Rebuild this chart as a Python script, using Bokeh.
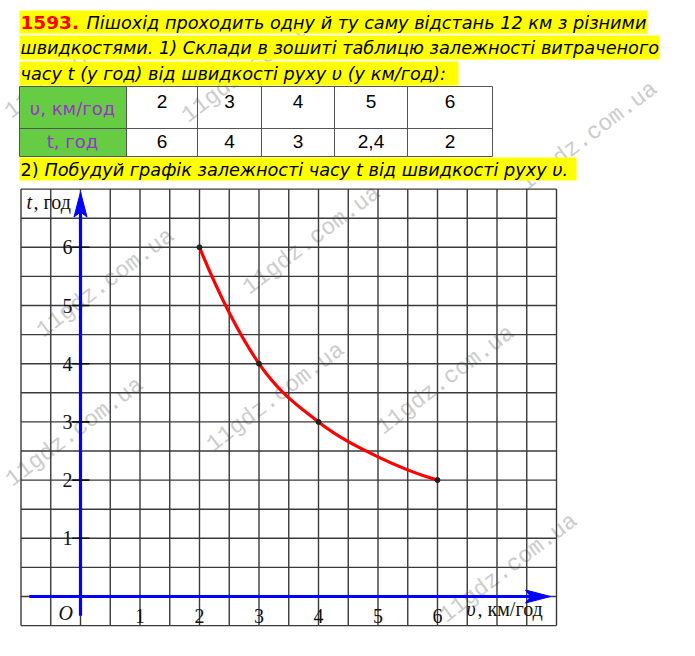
from bokeh.plotting import figure
from bokeh.models import Range1d, Label, ColumnDataSource
from bokeh.core.properties import value
from bokeh.embed import file_html
from bokeh.resources import INLINE
import math

# ---------------- data ----------------
speeds = [2, 3, 4, 5, 6]                 # v, km/h
times = [6, 4, 3, 2.4, 2]                # t, h
time_labels = ["6", "4", "3", "2,4", "2"]
marked = [True, True, True, False, True]
x_ticks = [1, 2, 3, 4, 5, 6]
y_ticks = [1, 2, 3, 4, 5, 6]

title_num = "1593."
line1 = "Пішохід проходить одну й ту саму відстань 12 км з різними"
line2 = "швидкостями. 1) Склади в зошиті таблицю залежності витраченого"
line3 = "часу t (у год) від швидкості руху υ (у км/год):"
line4a = "2)"
line4b = "Побудуй графік залежності часу t від швидкості руху υ."
row_head_v = "υ, км/год"
row_head_t = "t, год"
watermark = "11gdz.com.ua"

# ------------- page pixel -> chart units -------------
OX, OY, UX, UY = 80.0, 596.0, 59.5, 58.2
def X(px):
    return (px - OX) / UX
def Y(py):
    return (OY - py) / UY

W, H = 679, 640
p = figure(width=W, height=H, output_backend="svg", toolbar_location=None,
           x_range=Range1d(X(0), X(W)), y_range=Range1d(Y(H), Y(0)),
           min_border=0, outline_line_color=None)
p.axis.visible = False
p.grid.visible = False
p.background_fill_color = "white"

SERIF = value("Liberation Serif")

# ---------------- watermarks ----------------
wm = [(15, 124), (192, 128), (47, 343), (253, 300), (16, 492), (217, 457),
      (387, 440), (450, 628), (530, 196)]
ang = math.radians(37)
p.text(x=[X(a) for a, b in wm], y=[Y(b) for a, b in wm], text=[watermark] * len(wm),
       angle=ang, text_font=value("Liberation Mono"), text_font_size="23px",
       text_color="#cccccc", text_align="left", text_baseline="bottom")

# ---------------- header highlights ----------------
hl = [(19, 647, 10, 33), (19, 659, 35, 59), (19, 458, 61, 85), (19, 576, 157, 180)]
p.quad(left=[X(a) for a, b, c, d in hl], right=[X(b) for a, b, c, d in hl],
       top=[Y(c) for a, b, c, d in hl], bottom=[Y(d) for a, b, c, d in hl],
       fill_color="#ffff00", line_color=None)

def lab(px, py, txt, size="17.7px", color="black", style="italic", font="DejaVu Sans", align="left"):
    p.add_layout(Label(x=X(px), y=Y(py), text=txt, text_font=font, text_font_size=size,
                       text_color=color, text_font_style=style, text_align=align,
                       text_baseline="middle"))

lab(20, 22, title_num, size="18.5px", color="#ff0000", style="bold")
lab(86, 22, line1)
lab(20, 47, line2)
lab(20, 73, line3)
lab(20, 169, line4a, style="normal")
lab(44, 169, line4b)

# ---------------- table ----------------
col_edges = [19, 126, 197, 261, 334, 407, 492]
row_edges = [86, 128, 156]
p.quad(left=X(col_edges[0]), right=X(col_edges[1]), top=Y(row_edges[0]), bottom=Y(row_edges[2]),
       fill_color="#66cc44", line_color=None)
p.segment(x0=[X(c) for c in col_edges], x1=[X(c) for c in col_edges],
          y0=Y(row_edges[0]), y1=Y(row_edges[2]), line_color="#555555", line_width=1)
p.segment(x0=X(col_edges[0]), x1=X(col_edges[-1]), y0=[Y(r) for r in row_edges],
          y1=[Y(r) for r in row_edges], line_color="#555555", line_width=1)
lab(72, 108, row_head_v, size="18px", color="#9933cc", style="normal", align="center")
lab(72, 141, row_head_t, size="18px", color="#9933cc", style="normal", align="center")
centers = [(col_edges[i] + col_edges[i + 1]) / 2 for i in range(1, 6)]
p.text(x=[X(c) for c in centers], y=Y(101), text=[str(v) for v in speeds],
       text_font=value("Liberation Sans"), text_font_size="19px", text_align="center",
       text_baseline="middle", text_color="black")
p.text(x=[X(c) for c in centers], y=Y(141), text=time_labels,
       text_font=value("Liberation Sans"), text_font_size="19px", text_align="center",
       text_baseline="middle", text_color="black")

# ---------------- chart grid ----------------
gx0, gx1, gy0, gy1 = -1.0, 8.0, -0.5, 7.0
xs_grid = [gx0 + 0.5 * i for i in range(int((gx1 - gx0) / 0.5) + 1)]
ys_grid = [gy0 + 0.5 * i for i in range(int((gy1 - gy0) / 0.5) + 1)]
p.segment(x0=xs_grid, x1=xs_grid, y0=gy0, y1=gy1, line_color="#3a3a3a", line_width=1.4)
p.segment(x0=gx0, x1=gx1, y0=ys_grid, y1=ys_grid, line_color="#3a3a3a", line_width=1.4)

# ---------------- blue axes with arrow heads ----------------
BLUE = "#0000ff"
ax_x0, ax_x1 = -0.86, 7.9
ax_y0, ax_y1 = -0.33, 6.95
head_len_px, head_hw_px = 25, 6.5
p.segment(x0=[ax_x0, 0], x1=[ax_x1 - head_len_px / UX * 0.6, 0],
          y0=[0, ax_y0], y1=[0, ax_y1 - head_len_px / UY * 0.6],
          line_color=BLUE, line_width=3.2)
p.patches(xs=[[ax_x1, ax_x1 - head_len_px / UX, ax_x1 - head_len_px / UX * 0.8, ax_x1 - head_len_px / UX],
              [0, -head_hw_px / UX, 0, head_hw_px / UX]],
          ys=[[0, head_hw_px / UY, 0, -head_hw_px / UY],
              [ax_y1, ax_y1 - head_len_px / UY, ax_y1 - head_len_px / UY * 0.8, ax_y1 - head_len_px / UY]],
          fill_color=BLUE, line_color=BLUE, line_width=1)

# y ticks
p.segment(x0=-0.14, x1=0.15, y0=y_ticks, y1=y_ticks, line_color="#111111", line_width=1.6)

# tick labels
p.text(x=-0.22, y=y_ticks, text=[str(t) for t in y_ticks], text_font=SERIF,
       text_font_size="20px", text_align="center", text_baseline="middle", text_color="#111111")
p.text(x=x_ticks, y=-0.33, text=[str(t) for t in x_ticks], text_font=SERIF,
       text_font_size="20px", text_align="center", text_baseline="middle", text_color="#111111")
p.text(x=[-0.25], y=[-0.29], text=["O"], text_font=SERIF, text_font_size="20px",
       text_font_style="italic", text_align="center", text_baseline="middle", text_color="#111111")
p.text(x=[X(26)], y=[Y(201)], text=["t"], text_font=SERIF, text_font_size="20px",
       text_font_style="italic", text_align="left", text_baseline="middle", text_color="#111111")
p.text(x=[X(33)], y=[Y(201)], text=[", год"], text_font=SERIF, text_font_size="20px",
       text_align="left", text_baseline="middle", text_color="#111111")
p.text(x=[X(466)], y=[Y(608)], text=["υ"], text_font=SERIF, text_font_size="20px",
       text_font_style="italic", text_align="left", text_baseline="middle", text_color="#111111")
p.text(x=[X(477)], y=[Y(608)], text=[", км/год"], text_font=SERIF, text_font_size="20px",
       text_align="left", text_baseline="middle", text_color="#111111")

# ---------------- red curve through table points (smooth cubic pieces) ----------------
n = len(speeds)
m = [None] * n
for i in range(1, n - 1):
    m[i] = ((speeds[i + 1] - speeds[i - 1]) / 2, (times[i + 1] - times[i - 1]) / 2)
m[0] = (2 * (speeds[1] - speeds[0]) - m[1][0], 2 * (times[1] - times[0]) - m[1][1])
m[-1] = (2 * (speeds[-1] - speeds[-2]) - m[-2][0], 2 * (times[-1] - times[-2]) - m[-2][1])
bz = dict(x0=[], y0=[], x1=[], y1=[], cx0=[], cy0=[], cx1=[], cy1=[])
for i in range(n - 1):
    bz["x0"].append(speeds[i]); bz["y0"].append(times[i])
    bz["x1"].append(speeds[i + 1]); bz["y1"].append(times[i + 1])
    bz["cx0"].append(speeds[i] + m[i][0] / 3); bz["cy0"].append(times[i] + m[i][1] / 3)
    bz["cx1"].append(speeds[i + 1] - m[i + 1][0] / 3); bz["cy1"].append(times[i + 1] - m[i + 1][1] / 3)
p.bezier(source=ColumnDataSource(bz), x0="x0", y0="y0", x1="x1", y1="y1",
         cx0="cx0", cy0="cy0", cx1="cx1", cy1="cy1", line_color="#ff0000", line_width=3.2)
p.scatter(x=[v for v, k in zip(speeds, marked) if k], y=[t for t, k in zip(times, marked) if k],
          size=5, color="#222222")

open("out.html", "w").write(file_html(p, INLINE))
